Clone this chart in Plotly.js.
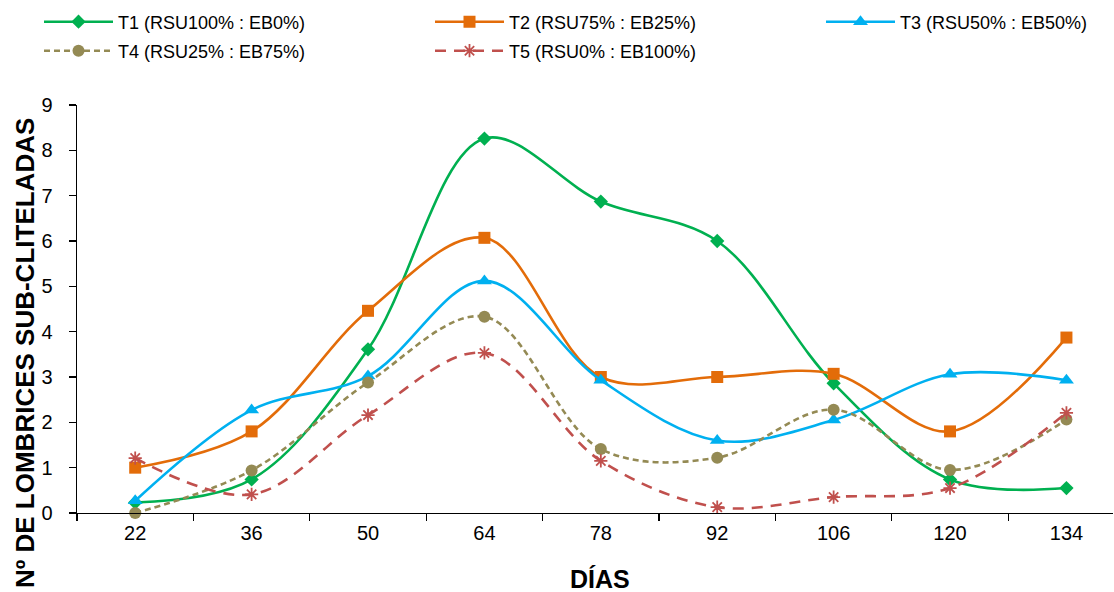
<!DOCTYPE html>
<html>
<head>
<meta charset="utf-8">
<script src="https://cdn.plot.ly/plotly-3.0.1.min.js"></script>
<style>html,body{margin:0;padding:0;background:#fff;}#chart{width:1114px;height:592px;}</style>
</head>
<body>
<div id="chart"></div>
<script>
// ---- data ----
const days = ['22', '36', '50', '64', '78', '92', '106', '120', '134'];
const seriesNames = ['T1 (RSU100% : EB0%)', 'T2 (RSU75% : EB25%)', 'T3 (RSU50% : EB50%)', 'T4 (RSU25% : EB75%)', 'T5 (RSU0% : EB100%)'];
const t1 = [0.23, 0.74, 3.61, 8.26, 6.87, 6.00, 2.86, 0.74, 0.55];
const t2 = [1.00, 1.80, 4.46, 6.07, 3.00, 3.00, 3.07, 1.80, 3.87];
const t3 = [0.27, 2.27, 3.02, 5.12, 2.93, 1.60, 2.05, 3.06, 2.93];
const t4 = [0.00, 0.94, 2.88, 4.33, 1.41, 1.22, 2.28, 0.95, 2.06];
const t5 = [1.21, 0.41, 2.16, 3.53, 1.15, 0.13, 0.35, 0.55, 2.21];
const yTitle = 'Nº DE LOMBRICES SUB-CLITELADAS';
const xTitle = 'DÍAS';

// ---- styles ----
const W = 1114, H = 592;
const M = {l: 77, r: 1, t: 105, b: 79};
const FONT = '"Liberation Sans", Arial, sans-serif';
const styles = [
  {color: '#00B050', dash: 'solid', symbol: 'diamond', size: 11},
  {color: '#E36C09', dash: 'solid', symbol: 'square', size: 12},
  {color: '#00B0F0', dash: 'solid', symbol: 'triangle-up', size: 13},
  {color: '#948A54', dash: '6px,4px', symbol: 'circle', size: 12},
  {color: '#C0504D', dash: '11px,8px', symbol: 'asterisk-open', size: 11}
];
const values = [t1, t2, t3, t4, t5];
const legendIds = ['legend', 'legend2', 'legend3', 'legend4', 'legend5'];
const legendPos = [[44, 22], [435, 22], [826, 22], [44, 51], [435, 51]];

const traces = values.map((v, i) => ({
  type: 'scatter',
  mode: 'lines+markers',
  x: days,
  y: v,
  name: seriesNames[i],
  legend: legendIds[i],
  cliponaxis: false,
  line: {color: styles[i].color, width: 2.6, dash: styles[i].dash, shape: 'spline', smoothing: 1},
  marker: {color: styles[i].color, symbol: styles[i].symbol, size: styles[i].size,
           line: {color: styles[i].color, width: styles[i].symbol === 'asterisk-open' ? 1.8 : 0}}
}));

const plotW = W - M.l - M.r, plotH = H - M.t - M.b;
const px2x = px => (px - M.l) / plotW;
const py2y = py => (H - M.b - py) / plotH;

const layout = {
  width: W, height: H,
  margin: M,
  paper_bgcolor: '#fff', plot_bgcolor: '#fff',
  font: {family: FONT, color: '#000', size: 20},
  showlegend: true,
  xaxis: {
    type: 'category',
    range: [-0.5, 8.4],
    tickson: 'boundaries',
    ticks: 'outside', ticklen: 7, tickcolor: '#000', tickwidth: 1.3,
    showline: true, linecolor: '#000', linewidth: 1.3,
    showgrid: false, zeroline: false,
    tickfont: {family: FONT, size: 20, color: '#000'},
    ticklabelstandoff: 2
  },
  yaxis: {
    range: [0, 9],
    dtick: 1,
    ticks: 'outside', ticklen: 7, tickcolor: '#000', tickwidth: 1.3,
    showline: true, linecolor: '#000', linewidth: 1.3,
    showgrid: false, zeroline: false,
    tickfont: {family: FONT, size: 20, color: '#000'},
    ticklabelstandoff: 12
  },
  annotations: [
    {text: yTitle, xref: 'paper', yref: 'paper', x: px2x(25), y: py2y(353),
     xanchor: 'center', yanchor: 'middle', textangle: -90, showarrow: false,
     font: {family: FONT, size: 26, color: '#000', weight: 'bold'}},
    {text: xTitle, xref: 'paper', yref: 'paper', x: px2x(600), y: py2y(579),
     xanchor: 'center', yanchor: 'middle', showarrow: false,
     font: {family: FONT, size: 25, color: '#000', weight: 'bold'}}
  ]
};

legendIds.forEach((id, i) => {
  layout[id] = {
    xref: 'container', yref: 'container',
    x: (legendPos[i][0] - 5) / W, y: 1 - legendPos[i][1] / H,
    xanchor: 'left', yanchor: 'middle',
    orientation: 'h',
    itemwidth: 69,
    bgcolor: 'rgba(0,0,0,0)', borderwidth: 0,
    font: {family: FONT, size: 18, color: '#000'}
  };
});

Plotly.newPlot('chart', traces, layout, {displayModeBar: false, staticPlot: true});
</script>
</body>
</html>
